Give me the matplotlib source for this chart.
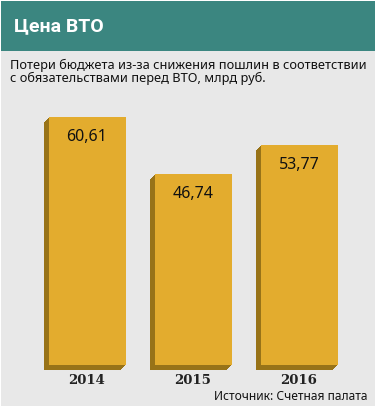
import matplotlib
matplotlib.use('Agg')
import matplotlib.pyplot as plt
from matplotlib.patches import Rectangle
from matplotlib.transforms import offset_copy

years = ['2014', '2015', '2016']
losses = [60.61, 46.74, 53.77]
labels = ['60,61', '46,74', '53,77']

title = 'Цена ВТО'
subtitle = 'Потери бюджета из-за снижения пошлин в соответствии\nс обязательствами перед ВТО, млрд руб.'
source = 'Источник: Счетная палата'

W, H = 376, 407
bg = '#e8e8e8'
teal = '#3b8680'
gold = '#e3ac2e'
dark = '#987318'

fig = plt.figure(figsize=(W / 100, H / 100), dpi=100)
fig.patch.set_facecolor('white')

# page background and header band
fig.patches.append(Rectangle((1 / W, 1 / H), 1 - 2 / W, 1 - 2 / H, zorder=-2,
                             transform=fig.transFigure, facecolor=bg, edgecolor='none'))
fig.patches.append(Rectangle((1 / W, 1 - 51 / H), 1 - 2 / W, 50 / H, zorder=-1,
                             transform=fig.transFigure, facecolor=teal, edgecolor='none'))
fig.text(14 / W, 1 - 26 / H, title, color='white', fontsize=14, fontweight='bold',
         family='Roboto', va='center', ha='left')
fig.text(10 / W, 1 - 72 / H, subtitle, color='#111111', fontsize=9.2,
         family='Noto Sans', va='center', ha='left', linespacing=1.0)
fig.text(368 / W, 1 - 396 / H, source, color='#111111', fontsize=8.6,
         family='Noto Sans', va='center', ha='right')

# bar area: baseline at y=365 px, 4.09 px per unit, centres 106 px apart
px_unit = 4.09
ymax = 64
step = 106
x0 = 87
ax = fig.add_axes([0, (H - 365) / H, 1, ymax * px_unit / H])
ax.set_xlim(-x0 / step, (W - x0) / step)
ax.set_ylim(0, ymax)
ax.axis('off')

xs = range(len(years))
bw = 77 / step
for k in range(1, 6):
    tr = offset_copy(ax.transData, fig=fig, x=-k, y=-k, units='dots')
    ax.bar(xs, losses, width=bw, color=dark, transform=tr, clip_on=False, zorder=1)
ax.bar(xs, losses, width=bw, color=gold, zorder=2, clip_on=False)

for i, v in enumerate(losses):
    tr = offset_copy(ax.transData, fig=fig, x=0, y=-20, units='dots')
    ax.text(i, v, labels[i], transform=tr, ha='center', va='center',
            fontsize=11.5, color='#111111', family='Noto Sans', zorder=3)
    tr2 = offset_copy(ax.transData, fig=fig, x=0, y=-16, units='dots')
    ax.text(i, 0, years[i], transform=tr2, ha='center', va='center',
            fontsize=9.5, fontweight='bold', color='#222222', family='DejaVu Serif')

fig.savefig('out.png', dpi=100, facecolor=fig.get_facecolor())
